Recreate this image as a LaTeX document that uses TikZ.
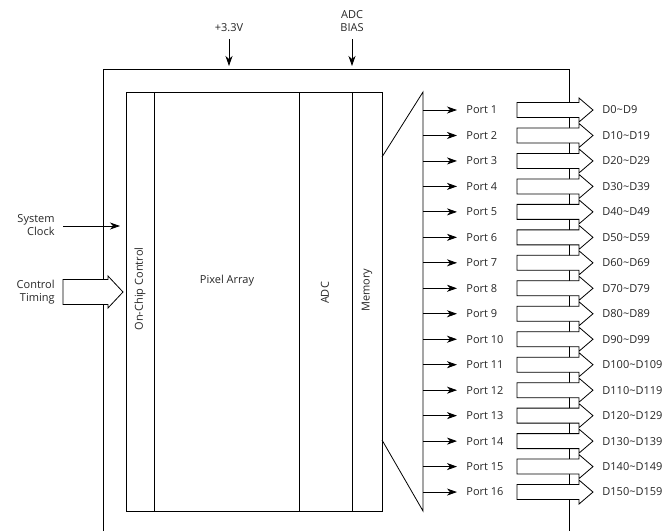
\documentclass[tikz,border=0pt]{standalone}
\usepackage{fontspec}
\setmainfont{Open Sans}
\usetikzlibrary{arrows.meta}
\begin{document}
\begin{tikzpicture}[x=1pt,y=-1pt, line width=0.8pt,
  >={Stealth[length=10pt,width=7pt,inset=3pt]},
  lbl/.style={font=\fontsize{11}{13}\selectfont, inner sep=0pt, text=black!85},
  wide/.style={draw, fill=white, line width=0.8pt}]
\useasboundingbox (0,0) rectangle (670,531);
% outer chip outline (open at bottom)
\draw (103,531) -- (103,69) -- (569,69) -- (569,531);
% inner blocks
\draw (126,92) rectangle (382,511);
\draw (154,92) -- (154,511);
\draw (299,92) -- (299,511);
\draw (352,92) -- (352,511);
% multiplexer
\draw (382,157) -- (423,92) -- (423,511) -- (382,440);
% block labels
\node[lbl, rotate=90] (occ) at (140,289) {On-Chip Control};
\node[lbl] (pa) at (227,281) {Pixel Array};
\node[lbl, rotate=90] (adc) at (325,293) {ADC};
\node[lbl, rotate=90] (mem) at (367,290) {Memory};
% top inputs
\node[lbl] (v33) at (229,28) {+3.3V};
\node[lbl, align=center] (bias) at (352,21) {ADC\\BIAS};
\coordinate (v33s) at (229,39);
\coordinate (v33e) at (229,66);
\coordinate (biass) at (352,39);
\coordinate (biase) at (352,66);
\draw[->] (v33s) -- (v33e);
\draw[->] (biass) -- (biase);
% left inputs
\node[lbl, align=right, anchor=east] (sc) at (55,225) {System\\Clock};
\coordinate (scs) at (63,226);
\coordinate (sce) at (120,226);
\draw[->] (scs) -- (sce);
\node[lbl, align=right, anchor=east] (ct) at (55,292) {Control\\Timing};
\draw[wide] (63,279.5) -- (108,279.5) -- (108,276) -- (123,292) -- (108,308) -- (108,304.5) -- (63,304.5) -- cycle;
% ports
\foreach \i in {1,...,16} {
  \pgfmathsetmacro{\y}{110+(\i-1)*25.47}
  \pgfmathtruncatemacro{\lo}{10*(\i-1)}
  \pgfmathtruncatemacro{\hi}{10*(\i-1)+9}
  \coordinate (s\i) at (423,\y);
  \coordinate (e\i) at (457,\y);
  \draw[->] (s\i) -- (e\i);
  \node[lbl, anchor=west] (p\i) at (466,\y) {Port \i};
  \draw[wide] (517,\y-7.5) -- (579,\y-7.5) -- (579,\y-12) -- (593,\y) -- (579,\y+12) -- (579,\y+7.5) -- (517,\y+7.5) -- cycle;
  \node[lbl, anchor=west] (d\i) at (602,\y) {D\lo\textasciitilde D\hi};
}
\end{tikzpicture}
\end{document}
